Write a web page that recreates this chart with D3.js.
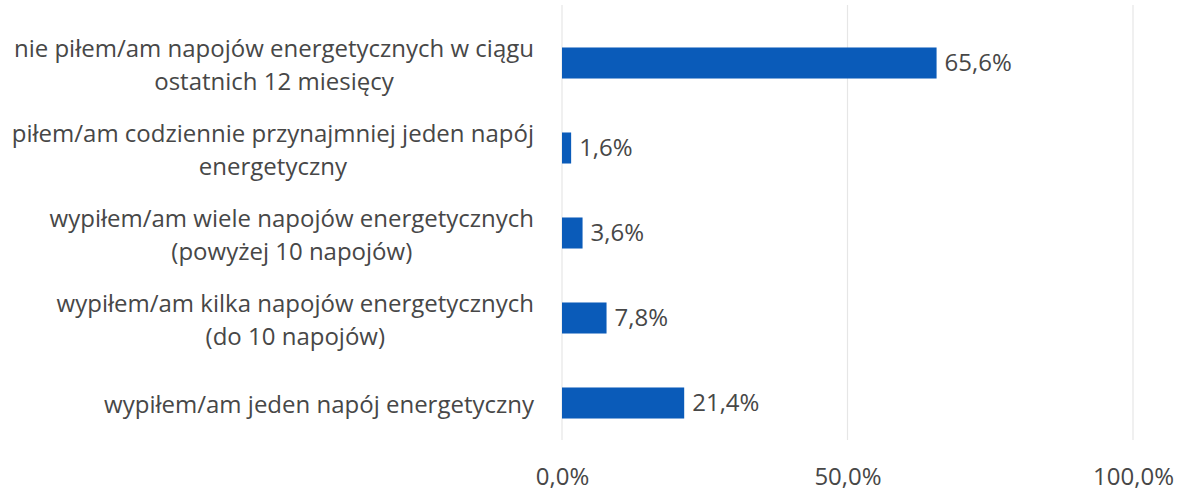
<!DOCTYPE html>
<html><head><meta charset="utf-8">
<script src="https://cdn.jsdelivr.net/npm/d3@7"></script>
<style>body{margin:0;background:#fff}svg{display:block}text{font-family:"Open Sans",sans-serif}</style>
</head><body>
<svg id="c" width="1177" height="493"></svg>
<script>
const categories = [
  ["nie piłem/am napojów energetycznych w ciągu", "ostatnich 12 miesięcy"],
  ["piłem/am codziennie przynajmniej jeden napój", "energetyczny"],
  ["wypiłem/am wiele napojów energetycznych", "(powyżej 10 napojów)"],
  ["wypiłem/am kilka napojów energetycznych", "(do 10 napojów)"],
  ["wypiłem/am jeden napój energetyczny"]
];
const values = [65.6, 1.6, 3.6, 7.8, 21.4];
const ticks = [0, 50, 100];
const fmt = v => v.toFixed(1).replace(".", ",") + "%";

const svg = d3.select("#c");
const keys = categories.map(c => c.join(" "));
const x = d3.scaleLinear().domain([0, 100]).range([562, 1133]);
const y = d3.scaleBand().domain(keys).range([20.5, 445.5]).paddingInner(0.635).paddingOuter(0.3175);
const txt = "#474747", fs = 24;

svg.append("g").selectAll("line").data(ticks).join("line")
  .attr("x1", d => x(d)).attr("x2", d => x(d)).attr("y1", 5).attr("y2", 440)
  .attr("stroke", "#e6e6e6").attr("stroke-width", 1.2);

const ax = svg.append("g").attr("transform", "translate(0,477)")
  .call(d3.axisBottom(x).tickValues(ticks).tickFormat(fmt).tickSize(0));
ax.select(".domain").remove();
ax.selectAll("text").attr("fill", txt).style("font-size", fs + "px").style("font-family", '"Open Sans",sans-serif').attr("dy", "0.35em").attr("y", 0);

svg.append("g").selectAll("rect").data(values).join("rect")
  .attr("x", x(0)).attr("y", (d, i) => y(keys[i]))
  .attr("width", d => x(d) - x(0)).attr("height", y.bandwidth())
  .attr("fill", "#0a5bb9");

svg.append("g").selectAll("text").data(values).join("text")
  .attr("x", d => x(d) + 8).attr("y", (d, i) => y(keys[i]) + y.bandwidth() / 2)
  .attr("dy", "0.35em").attr("fill", txt).style("font-size", fs + "px").text(fmt);

const lg = svg.append("g");
categories.forEach((lines, i) => {
  const cy = y(keys[i]) + y.bandwidth() / 2 + 2;
  const t = lg.append("text").attr("fill", txt).style("font-size", fs + "px").attr("text-anchor", "middle");
  const n = lines.length;
  const ts = lines.map((l, j) => t.append("tspan").attr("y", cy + (j - (n - 1) / 2) * 33).attr("dy", "0.35em").text(l));
  const w = d3.max(ts, s => s.node().getComputedTextLength());
  ts.forEach(s => s.attr("x", 534 - w / 2));
});
</script>
</body></html>
